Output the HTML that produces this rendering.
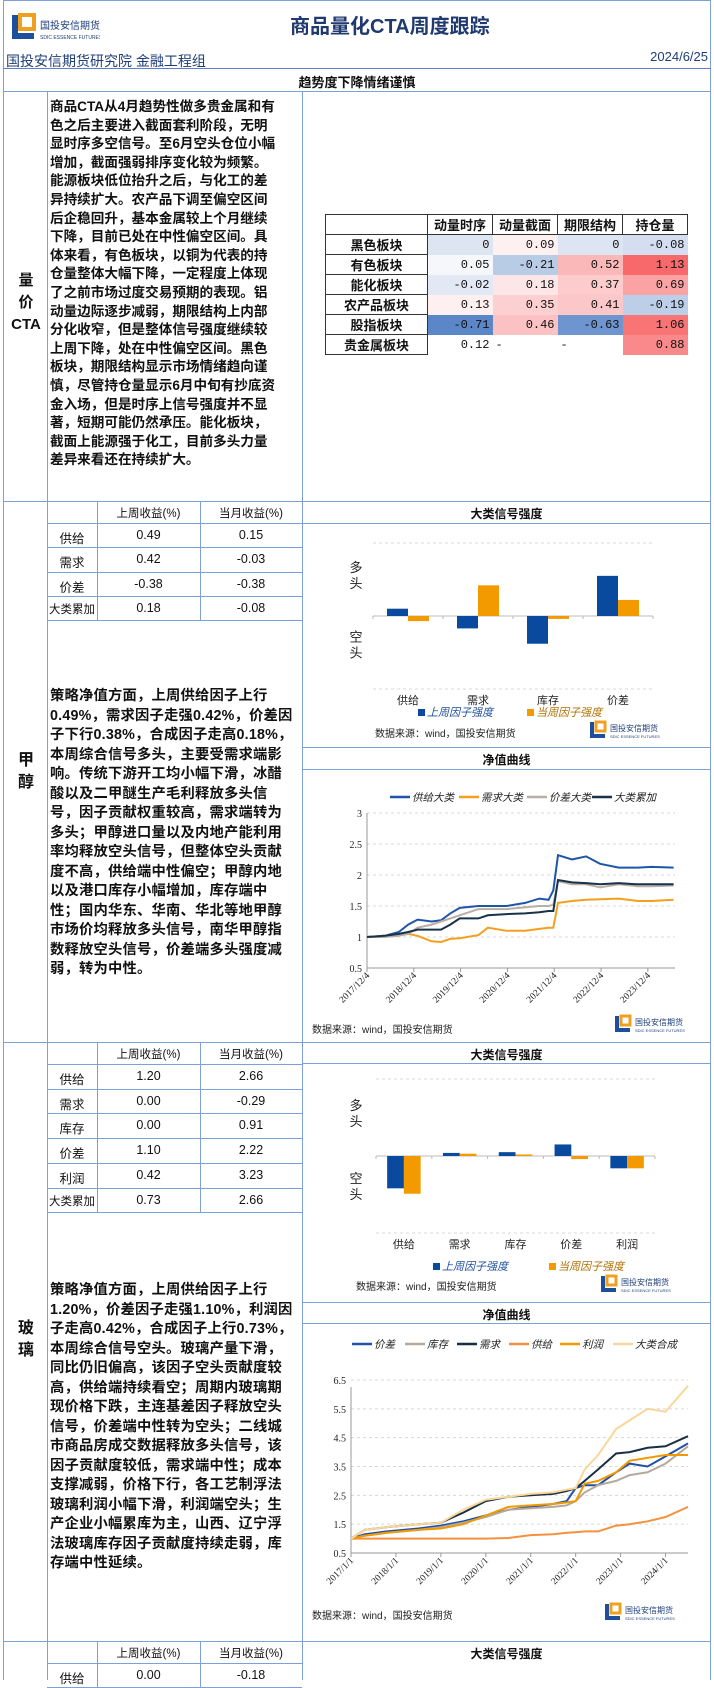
<!DOCTYPE html>
<html><head><meta charset="utf-8">
<style>
*{margin:0;padding:0;box-sizing:border-box}
body{width:714px;height:1680px;overflow:hidden;background:#fff;position:relative;font-family:"Liberation Sans","Noto Sans CJK SC",sans-serif;color:#111}
.a{position:absolute}
.hl{position:absolute;height:1px;background:#7f9fd8}
.vl{position:absolute;width:1px;background:#7f9fd8}
.para{position:absolute;left:50px;font-weight:bold;white-space:nowrap;color:#111}
.lab{position:absolute;left:4px;width:44px;text-align:center;font-size:15px;line-height:22px;font-weight:bold}
.ct{position:absolute;left:302px;width:409px;text-align:center;font-size:12px;font-weight:bold}
table.hm{position:absolute;left:325px;top:214px;border-collapse:collapse;font-family:"Liberation Mono","Noto Sans CJK SC",monospace;font-size:12px}
table.hm td{height:16.5px;padding:0 3px;text-align:right;border:none}
table.hm td.rh{text-align:center;font-weight:bold;font-family:"Liberation Sans","Noto Sans CJK SC",sans-serif;font-size:13px;border:1px solid #333;background:#fff;width:102px}
table.hm th{font-family:"Liberation Sans","Noto Sans CJK SC",sans-serif;font-size:13px;border:1px solid #333;background:#fff;font-weight:bold;height:15px;width:65px}
</style></head><body>
<div class="vl" style="left:3px;top:0;height:1680px"></div>
<div class="vl" style="left:710px;top:0;height:1680px"></div>
<div class="hl" style="left:3px;top:0;width:708px"></div>

<div class="a" style="left:10px;top:12px">
<svg width="90" height="34"><rect x="2" y="3" width="6" height="24" fill="#1d4f9c"/><rect x="2" y="21" width="22" height="6" fill="#1d4f9c"/><rect x="10" y="3" width="14" height="14" fill="none" stroke="#f0a020" stroke-width="4"/>
<text x="30" y="17" font-size="10" fill="#1d3d7a" font-family="Noto Sans CJK SC">国投安信期货</text><text x="30" y="27" font-size="5" fill="#1d3d7a">SDIC ESSENCE FUTURES</text></svg></div>
<div class="a" style="left:290px;top:10px;font-size:20px;font-weight:bold;color:#203a70">商品量化CTA周度跟踪</div>
<div class="a" style="left:6px;top:51px;font-size:14px;color:#1f3d7a">国投安信期货研究院 金融工程组</div>
<div class="a" style="right:6px;top:49px;font-size:13px;color:#1f3d7a">2024/6/25</div>
<div class="hl" style="left:3px;top:68px;width:708px;background:#5b7fc8"></div>
<div class="a" style="left:3px;width:708px;top:72px;text-align:center;font-size:13px;font-weight:bold">趋势度下降情绪谨慎</div>
<div class="hl" style="left:3px;top:91px;width:708px"></div>

<div class="vl" style="left:47px;top:91px;height:1589px"></div>
<div class="vl" style="left:302px;top:91px;height:1589px"></div>

<div class="lab" style="top:270px">量<br>价<br>CTA</div>
<div class="para" style="top:98px;font-size:13.6px;line-height:18.6px">商品CTA从4月趋势性做多贵金属和有<br>色之后主要进入截面套利阶段，无明<br>显时序多空信号。至6月空头仓位小幅<br>增加，截面强弱排序变化较为频繁。<br>能源板块低位抬升之后，与化工的差<br>异持续扩大。农产品下调至偏空区间<br>后企稳回升，基本金属较上个月继续<br>下降，目前已处在中性偏空区间。具<br>体来看，有色板块，以铜为代表的持<br>仓量整体大幅下降，一定程度上体现<br>了之前市场过度交易预期的表现。铝<br>动量边际逐步减弱，期限结构上内部<br>分化收窄，但是整体信号强度继续较<br>上周下降，处在中性偏空区间。黑色<br>板块，期限结构显示市场情绪趋向谨<br>慎，尽管持仓量显示6月中旬有抄底资<br>金入场，但是时序上信号强度并不显<br>著，短期可能仍然承压。能化板块，<br>截面上能源强于化工，目前多头力量<br>差异来看还在持续扩大。</div>

<table class="hm">
<tr><td style="border:1px solid #333;background:#fff"></td><th>动量时序</th><th>动量截面</th><th>期限结构</th><th>持仓量</th></tr>
<tr><td class="rh">黑色板块</td><td style="background:#dde5f2">0</td><td style="background:#fdf0f0">0.09</td><td style="background:#dde5f2">0</td><td style="background:#d4def0">-0.08</td></tr>
<tr><td class="rh">有色板块</td><td style="background:#f6f7fb">0.05</td><td style="background:#b8cce6">-0.21</td><td style="background:#fbb8b9">0.52</td><td style="background:#f8696b">1.13</td></tr>
<tr><td class="rh">能化板块</td><td style="background:#e3e9f4">-0.02</td><td style="background:#fde6e7">0.18</td><td style="background:#fccccd">0.37</td><td style="background:#fba3a4">0.69</td></tr>
<tr><td class="rh">农产品板块</td><td style="background:#fef0f0">0.13</td><td style="background:#fcd0d1">0.35</td><td style="background:#fcc7c8">0.41</td><td style="background:#bccee8">-0.19</td></tr>
<tr><td class="rh">股指板块</td><td style="background:#5b87c8">-0.71</td><td style="background:#fcc1c2">0.46</td><td style="background:#6e95cf">-0.63</td><td style="background:#f87475">1.06</td></tr>
<tr><td class="rh">贵金属板块</td><td style="background:#fff">0.12</td><td style="background:#fff;text-align:left">-</td><td style="background:#fff;text-align:left">-</td><td style="background:#f9898a">0.88</td></tr>
</table>
<div class="hl" style="left:3px;top:501px;width:708px"></div>

<div class="lab" style="top:750px;font-size:16px;line-height:22px">甲<br>醇</div>
<div id="tbl1"></div>
<div class="para" style="top:687px;font-size:14.3px;letter-spacing:0.2px;line-height:19.5px">策略净值方面，上周供给因子上行<br>0.49%，需求因子走强0.42%，价差因<br>子下行0.38%，合成因子走高0.18%，<br>本周综合信号多头，主要受需求端影<br>响。传统下游开工均小幅下滑，冰醋<br>酸以及二甲醚生产毛利释放多头信<br>号，因子贡献权重较高，需求端转为<br>多头；甲醇进口量以及内地产能利用<br>率均释放空头信号，但整体空头贡献<br>度不高，供给端中性偏空；甲醇内地<br>以及港口库存小幅增加，库存端中<br>性；国内华东、华南、华北等地甲醇<br>市场价均释放多头信号，南华甲醇指<br>数释放空头信号，价差端多头强度减<br>弱，转为中性。</div>
<div class="ct" style="top:505px">大类信号强度</div>
<div class="hl" style="left:302px;top:523px;width:409px"></div>
<svg id="bar1" class="a" style="left:302px;top:524px" width="408" height="222"></svg>
<div class="hl" style="left:302px;top:747px;width:409px"></div>
<div class="ct" style="top:751px">净值曲线</div>
<div class="hl" style="left:302px;top:769px;width:409px"></div>
<svg id="line1" class="a" style="left:302px;top:770px" width="408" height="268"></svg>
<div class="hl" style="left:3px;top:1042px;width:708px"></div>

<div class="lab" style="top:1318px;font-size:16px;line-height:22px">玻<br>璃</div>
<div id="tbl2"></div>
<div class="para" style="top:1281px;font-size:14.3px;letter-spacing:0.2px;line-height:19.5px">策略净值方面，上周供给因子上行<br>1.20%，价差因子走强1.10%，利润因<br>子走高0.42%，合成因子上行0.73%，<br>本周综合信号空头。玻璃产量下滑，<br>同比仍旧偏高，该因子空头贡献度较<br>高，供给端持续看空；周期内玻璃期<br>现价格下跌，主连基差因子释放空头<br>信号，价差端中性转为空头；二线城<br>市商品房成交数据释放多头信号，该<br>因子贡献度较低，需求端中性；成本<br>支撑减弱，价格下行，各工艺制浮法<br>玻璃利润小幅下滑，利润端空头；生<br>产企业小幅累库为主，山西、辽宁浮<br>法玻璃库存因子贡献度持续走弱，库<br>存端中性延续。</div>
<div class="ct" style="top:1046px">大类信号强度</div>
<div class="hl" style="left:302px;top:1063px;width:409px"></div>
<svg id="bar2" class="a" style="left:302px;top:1064px" width="408" height="237"></svg>
<div class="hl" style="left:302px;top:1302px;width:409px"></div>
<div class="ct" style="top:1306px">净值曲线</div>
<div class="hl" style="left:302px;top:1323px;width:409px"></div>
<svg id="line2" class="a" style="left:302px;top:1324px" width="408" height="316"></svg>
<div class="hl" style="left:3px;top:1641px;width:708px"></div>

<div id="tbl3"></div>
<div class="ct" style="top:1645px">大类信号强度</div>

<script>
const t1Rows = ['供给','需求','价差','大类累加'];
const t1Week = ['0.49','0.42','-0.38','0.18'];
const t1Month = ['0.15','-0.03','-0.38','-0.08'];
const t2Rows = ['供给','需求','库存','价差','利润','大类累加'];
const t2Week = ['1.20','0.00','0.00','1.10','0.42','0.73'];
const t2Month = ['2.66','-0.29','0.91','2.22','3.23','2.66'];
const t3Rows = ['供给'];
const t3Week = ['0.00'];
const t3Month = ['-0.18'];

const bar1Cats = ['供给','需求','库存','价差'];
const bar1Last = [0.10,-0.17,-0.38,0.55];
const bar1Curr = [-0.07,0.42,-0.04,0.22];
const bar2Cats = ['供给','需求','库存','价差','利润'];
const bar2Last = [-0.42,0.04,0.05,0.15,-0.16];
const bar2Curr = [-0.49,0.03,0.02,-0.04,-0.16];

const l1Dates = [2017.92,2018.3,2018.6,2018.8,2019.0,2019.3,2019.5,2019.7,2019.9,2020.3,2020.5,2020.9,2021.3,2021.6,2021.8,2021.9,2022.0,2022.3,2022.6,2022.9,2023.3,2023.7,2024.0,2024.47];
const l1Supply = [1.0,1.02,1.08,1.2,1.28,1.25,1.27,1.38,1.47,1.5,1.5,1.5,1.55,1.62,1.6,1.75,2.32,2.25,2.3,2.18,2.12,2.12,2.13,2.12];
const l1Demand = [1.0,1.02,1.03,1.05,1.02,0.93,0.92,0.97,0.98,1.03,1.15,1.1,1.1,1.13,1.15,1.15,1.55,1.58,1.6,1.61,1.62,1.58,1.58,1.6];
const l1Spread = [1.0,1.0,1.02,1.05,1.15,1.2,1.25,1.3,1.35,1.45,1.45,1.45,1.48,1.5,1.5,1.52,1.9,1.85,1.85,1.8,1.85,1.82,1.82,1.83];
const l1Total = [1.0,1.02,1.05,1.08,1.12,1.12,1.12,1.2,1.3,1.3,1.35,1.37,1.38,1.4,1.42,1.42,1.92,1.88,1.87,1.85,1.87,1.85,1.85,1.85];
const l1YTicks = [0.5,1,1.5,2,2.5,3];
const l1XTicks = ['2017/12/4','2018/12/4','2019/12/4','2020/12/4','2021/12/4','2022/12/4','2023/12/4'];

const l2Dates = [2017.0,2017.3,2017.8,2018.5,2019.0,2019.5,2020.0,2020.5,2021.0,2021.5,2021.8,2022.0,2022.2,2022.5,2022.9,2023.2,2023.6,2024.0,2024.5];
const l2Spread = [1.0,1.15,1.25,1.35,1.45,1.6,1.8,2.0,2.1,2.2,2.3,2.75,2.85,2.85,3.3,3.6,3.5,3.85,4.3];
const l2Stock = [1.0,1.1,1.2,1.3,1.4,1.55,1.75,2.0,2.05,2.1,2.15,2.3,2.6,2.85,3.0,3.2,3.3,3.6,4.2];
const l2Demand = [1.0,1.3,1.4,1.5,1.55,1.9,2.3,2.45,2.5,2.55,2.65,2.75,3.0,3.4,3.95,4.0,4.15,4.2,4.55];
const l2Supply = [1.0,1.0,1.0,1.0,1.0,1.0,1.0,1.02,1.12,1.15,1.2,1.22,1.25,1.25,1.45,1.5,1.6,1.75,2.1];
const l2Profit = [1.0,1.1,1.2,1.3,1.35,1.5,1.8,2.1,2.15,2.2,2.25,2.3,2.9,3.0,3.3,3.7,3.8,3.9,3.9];
const l2Comp = [1.0,1.3,1.4,1.5,1.55,2.0,2.35,2.45,2.55,2.6,2.7,2.75,3.4,3.9,4.8,5.1,5.5,5.4,6.3];
const l2YTicks = [0.5,1.5,2.5,3.5,4.5,5.5,6.5];
const l2XTicks = ['2017/1/1','2018/1/1','2019/1/1','2020/1/1','2021/1/1','2022/1/1','2023/1/1','2024/1/1'];

const NS='http://www.w3.org/2000/svg';
function mk(p,tag,at){const e=document.createElementNS(NS,tag);for(const k in at)e.setAttribute(k,at[k]);p.appendChild(e);return e;}
function txt(p,x,y,s,at){const e=mk(p,'text',Object.assign({x:x,y:y,'font-size':11,'font-family':'Liberation Sans, Noto Sans CJK SC, sans-serif',fill:'#222'},at||{}));e.textContent=s;return e;}
function div(style,text){const d=document.createElement('div');d.style.cssText=style;if(text!==undefined)d.textContent=text;document.body.appendChild(d);return d;}

function table(top,rows,wk,mo,rowH,prefix){
  const hd=22;
  let l;
  l=div('position:absolute;left:47px;top:'+(top+hd)+'px;width:255px;height:1px;background:#7f9fd8');
  
  
  let h1=div('position:absolute;left:97px;width:103px;top:'+(top+4)+'px;text-align:center;font-size:11.5px','上周收益(%)');
  
  
  let h2=div('position:absolute;left:200px;width:102px;top:'+(top+4)+'px;text-align:center;font-size:11.5px','当月收益(%)');
  
  
  const total=hd+rows.length*rowH;
  [97,200].forEach(function(x){const v=div('position:absolute;left:'+x+'px;top:'+top+'px;width:1px;height:'+total+'px;background:#7f9fd8');});
  rows.forEach(function(r,i){
    const y=top+hd+i*rowH;
    const a=div('position:absolute;left:47px;width:50px;top:'+(y+5)+'px;text-align:center;white-space:nowrap;font-size:'+(r.length>3?'11.5px':'12.5px'),r);
    
    
    const b=div('position:absolute;left:97px;width:103px;top:'+(y+5)+'px;text-align:center;font-size:12.5px',wk[i]);
    
    
    const c=div('position:absolute;left:200px;width:102px;top:'+(y+5)+'px;text-align:center;font-size:12.5px',mo[i]);
    
    
    const ln=div('position:absolute;left:47px;top:'+(y+rowH)+'px;width:255px;height:1px;background:#7f9fd8');
    
    
  });
}
table(501,t1Rows,t1Week,t1Month,24.3,'methanol');
table(1042,t2Rows,t2Week,t2Month,24.7,'glass');
table(1641,t3Rows,t3Week,t3Month,24,'next');

function logo(svg,x,y){
  const g=mk(svg,'g',{transform:'translate('+x+','+y+')'});
  
  
  mk(g,'rect',{x:0,y:2,width:4,height:16,fill:'#1d4f9c'});
  mk(g,'rect',{x:0,y:14,width:15,height:4,fill:'#1d4f9c'});
  mk(g,'rect',{x:6,y:2,width:9,height:9,fill:'none',stroke:'#f0a020','stroke-width':3});
  txt(g,20,11,'国投安信期货',{'font-size':8,fill:'#1d3d7a'});
  txt(g,20,18,'SDIC ESSENCE FUTURES',{'font-size':4,fill:'#1d3d7a'});
}

function barChart(id,cats,last,curr,o){
  const svg=document.getElementById(id);
  const y=function(v){return o.zero-v*o.half;};
  const cw=(o.x1-o.x0)/cats.length;
  [o.zero-o.half,o.zero+o.half].forEach(function(yy){mk(svg,'line',{x1:o.x0,x2:o.x1,y1:yy,y2:yy,stroke:'#d8d8d8','stroke-dasharray':'3,3'});});
  mk(svg,'line',{x1:o.x0,x2:o.x1,y1:o.zero,y2:o.zero,stroke:'#bbb'});
  for(let i=0;i<=cats.length;i++){mk(svg,'line',{x1:o.x0+i*cw,x2:o.x0+i*cw,y1:o.zero,y2:o.zero+3,stroke:'#bbb'});}
  txt(svg,o.lx,o.zero-o.half*0.6,'多',{'font-size':13,'text-anchor':'middle'});
  txt(svg,o.lx,o.zero-o.half*0.6+16,'头',{'font-size':13,'text-anchor':'middle'});
  txt(svg,o.lx,o.zero+o.half*0.35,'空',{'font-size':13,'text-anchor':'middle'});
  txt(svg,o.lx,o.zero+o.half*0.35+16,'头',{'font-size':13,'text-anchor':'middle'});
  cats.forEach(function(c,i){
    const cx=o.x0+cw*(i+0.5);
    const bw=cw*0.3;
    const v1=last[i],v2=curr[i];
    const b1=mk(svg,'rect',{x:cx-bw,y:Math.min(y(v1),o.zero),width:bw,height:Math.abs(y(v1)-o.zero),fill:'#0a4a9e'});
    
    
    const b2=mk(svg,'rect',{x:cx,y:Math.min(y(v2),o.zero),width:bw,height:Math.abs(y(v2)-o.zero),fill:'#f29a00'});
    
    
    const t=txt(svg,cx,o.zero+o.half+15,c,{'text-anchor':'middle'});
    
    
  });
  mk(svg,'rect',{x:o.leg1,y:o.legY-7,width:7,height:7,fill:'#0a4a9e'});
  txt(svg,o.leg1+9,o.legY,'上周因子强度',{'font-style':'italic',fill:'#1d4f9c'});
  mk(svg,'rect',{x:o.leg2,y:o.legY-7,width:7,height:7,fill:'#f29a00'});
  txt(svg,o.leg2+9,o.legY,'当周因子强度',{'font-style':'italic',fill:'#b07000'});
  const s=txt(svg,o.srcX,o.srcY,'数据来源：wind，国投安信期货',{'font-size':10});
  
  
  logo(svg,o.logoX,o.logoY);
}
barChart('bar1',bar1Cats,bar1Last,bar1Curr,{x0:71,x1:351,zero:92,half:73,lx:54,legY:192,leg1:116,leg2:225,srcX:73,srcY:213,logoX:288,logoY:196});
barChart('bar2',bar2Cats,bar2Last,bar2Curr,{x0:74,x1:353,zero:92,half:77,lx:54,legY:206,leg1:131,leg2:247,srcX:54,srcY:226,logoX:299,logoY:210});

function lineChart(id,dates,series,colors,names,o){
  const svg=document.getElementById(id);
  const X=function(d){return o.x0+(d-o.d0)*(o.x1-o.x0)/(o.d1-o.d0);};
  const Y=function(v){return o.y0-(v-o.v0)*(o.y0-o.y1)/(o.v1-o.v0);};
  o.yt.forEach(function(v){
    if(v>o.v0) mk(svg,'line',{x1:o.x0,x2:o.x1,y1:Y(v),y2:Y(v),stroke:'#d8d8d8','stroke-dasharray':'3,3'});
    txt(svg,o.x0-5,Y(v)+4,String(v),{'text-anchor':'end','font-size':10,'font-family':'Liberation Serif, serif'});
  });
  mk(svg,'line',{x1:o.x0,x2:o.x0,y1:o.y0,y2:o.top,stroke:'#999'});
  mk(svg,'line',{x1:o.x0,x2:o.x1,y1:o.y0,y2:o.y0,stroke:'#999'});
  o.xt.forEach(function(s,i){
    const xx=X(o.xStart+i);
    mk(svg,'line',{x1:xx,x2:xx,y1:o.y0,y2:o.y0+4,stroke:'#999'});
    const t=txt(svg,xx+3,o.y0+8,s,{'text-anchor':'end','font-size':9.5,'font-family':'Liberation Serif, serif',transform:'rotate(-45 '+(xx+3)+' '+(o.y0+8)+')'});
    
    
  });
  series.forEach(function(ser,k){
    const pts=ser.map(function(v,i){return X(dates[i]).toFixed(1)+','+Y(v).toFixed(1);}).join(' ');
    const pl=mk(svg,'polyline',{points:pts,fill:'none',stroke:colors[k],'stroke-width':2});
    
    
  });
  names.forEach(function(n,k){
    const lx=o.legX[k];
    mk(svg,'line',{x1:lx,x2:lx+20,y1:o.legY-4,y2:o.legY-4,stroke:colors[k],'stroke-width':2.5});
    const t=txt(svg,lx+22,o.legY,n,{'font-style':'italic','font-size':10.5});
    
    
  });
  const s=txt(svg,o.srcX,o.srcY,'数据来源：wind，国投安信期货',{'font-size':10});
  
  
  logo(svg,o.logoX,o.logoY);
}
lineChart('line1',l1Dates,[l1Supply,l1Demand,l1Spread,l1Total],['#1f55a8','#f2a01e','#b8aea6','#17324a'],['供给大类','需求大类','价差大类','大类累加'],
 {x0:65,x1:373,top:43,y0:198,y1:43,v0:0.5,v1:3,d0:2017.92,d1:2024.5,yt:l1YTicks,xt:l1XTicks,xStart:2017.92,legY:31,srcX:10,srcY:263,logoX:313,logoY:244,legX:[88,157,225,290]});
lineChart('line2',l2Dates,[l2Spread,l2Stock,l2Demand,l2Supply,l2Profit,l2Comp],['#2050a8','#b5a89c','#1a2f45','#f5913e','#f09a00','#f8d79a'],['价差','库存','需求','供给','利润','大类合成'],
 {x0:49,x1:386,top:63,y0:229,y1:56,v0:0.5,v1:6.5,d0:2017.0,d1:2024.5,yt:l2YTicks,xt:l2XTicks,xStart:2017.0,legY:24,srcX:10,srcY:295,logoX:303,logoY:278,legX:[50,103,155,207,258,311]});
</script>
</body></html>
